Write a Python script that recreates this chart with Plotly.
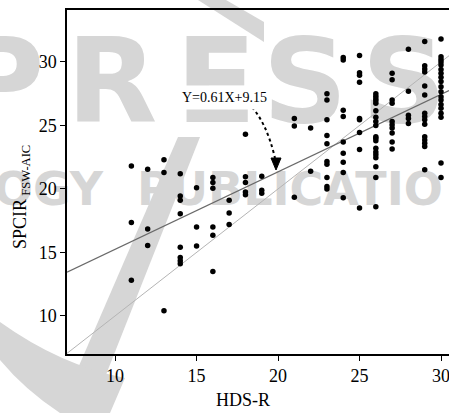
import plotly.graph_objects as go

# ---------------- data ----------------
hds_r = [11, 11, 11,
         12, 12, 12,
         13, 13, 13,
         14, 14, 14, 14, 14, 14, 14, 14,
         15, 15, 15,
         16, 16, 16, 16, 16, 16,
         17, 17, 17,
         18, 18, 18, 18, 18,
         19, 19, 19,
         21, 21, 21,
         22, 22,
         23, 23, 23, 23, 23, 23, 23, 23, 23, 23,
         24, 24, 24, 24, 24, 24, 24, 24, 24,
         25, 25, 25, 25, 25, 25, 25, 25, 25,
         26, 26, 26, 26, 26, 26, 26, 26, 26, 26, 26, 26, 26, 26, 26, 26, 26, 26, 26,
         27, 27, 27, 27, 27, 27, 27, 27, 27, 27,
         28, 28, 28, 28, 28,
         29, 29, 29, 29, 29, 29, 29, 29, 29, 29, 29, 29, 29, 29, 29,
         30, 30, 30, 30, 30, 30, 30, 30, 30, 30, 30, 30, 30, 30, 30, 30, 30, 30, 30]

spcir_fsw_aic = [21.8, 17.35, 12.8,
                 21.55, 16.85, 15.55,
                 22.3, 21.3, 10.4,
                 21.2, 19.45, 19.1, 18.05, 15.4, 14.6, 14.35, 14.1,
                 20.1, 17.0, 15.5,
                 20.9, 20.5, 20.05, 17.0, 16.35, 13.5,
                 19.1, 18.1, 17.2,
                 24.3, 20.95, 20.5, 19.75, 19.55,
                 21.0, 19.9, 19.65,
                 25.55, 24.95, 19.35,
                 24.8, 21.4,
                 27.5, 27.0, 25.45, 24.2, 23.55, 22.15, 21.95, 20.9, 20.2, 20.0,
                 30.35, 30.15, 26.2, 25.7, 23.7, 22.8, 22.1, 21.3, 19.3,
                 30.5, 29.15, 28.95, 28.4, 25.55, 25.45, 24.45, 23.1, 18.5,
                 27.5, 27.3, 27.1, 26.95, 26.75, 26.15, 25.65, 25.3, 25.0, 24.1,
                 24.0, 23.8, 23.2, 22.9, 22.7, 22.45, 21.75, 20.9, 18.6,
                 29.1, 28.6, 27.0, 26.75, 25.3, 25.05, 24.8, 24.4, 23.7, 23.15,
                 31.0, 27.7, 25.8, 25.55, 25.15,
                 31.6, 29.7, 29.45, 29.2, 28.1, 27.4, 25.95, 25.7, 25.45, 25.1,
                 24.1, 23.85, 23.6, 23.35, 21.5,
                 31.8, 30.4, 30.2, 30.0, 29.75, 29.4, 29.1, 28.8, 28.45, 28.05,
                 27.65, 27.25, 27.0, 26.65, 26.35, 25.95, 25.65, 22.05, 20.9]

reg_slope = 0.61
reg_intercept = 9.15
reg_label = "Y=0.61X+9.15"

tick_vals = [10, 15, 20, 25, 30]
tick_text = ["10", "15", "20", "25", "30"]

x_title = "HDS-R"
y_title_main = "SPCIR"
y_title_sub = "FSW-AIC"

# ---------------- layout geometry ----------------
W, H = 449, 413
ML, MR, MT, MB = 67, 0, 10, 59
X_RANGE = [7.05, 30.49]
Y_RANGE = [7.0, 34.09]
PLOT_W = W - ML - MR
PLOT_H = H - MT - MB
SERIF = "Liberation Serif"


def px_x(px):
    return X_RANGE[0] + (px - ML) / PLOT_W * (X_RANGE[1] - X_RANGE[0])


def px_y(py):
    return Y_RANGE[0] + (H - MB - py) / PLOT_H * (Y_RANGE[1] - Y_RANGE[0])


def pap_x(px):
    return (px - ML) / PLOT_W


def pap_y(py):
    return (H - MB - py) / PLOT_H


def poly(points):
    return "M " + " L ".join(f"{pap_x(a)},{pap_y(b)}" for a, b in points) + " Z"


fig = go.Figure()

# ---- faint background watermark (publisher logo) ----
WM = "#d6d6d6"
WM_FONT_BIG = dict(family="DejaVu Sans", size=118, color=WM, weight="bold")
wm_big_letters = ["R", "E", "S", "S"]
wm_big_px = [112, 216, 305, 404]
fig.add_trace(go.Scatter(
    x=[px_x(68)], y=[px_y(92)], mode="text", text=["P\u2009"],
    textfont=WM_FONT_BIG, textposition="middle left",
    cliponaxis=False, hoverinfo="skip", showlegend=False))
fig.add_trace(go.Scatter(
    x=[px_x(p) for p in wm_big_px], y=[px_y(92)] * len(wm_big_px), mode="text",
    text=wm_big_letters, textfont=WM_FONT_BIG,
    textposition="middle center", cliponaxis=False, hoverinfo="skip", showlegend=False))
fig.add_trace(go.Scatter(
    x=[px_x(103), px_x(137)], y=[px_y(193), px_y(193)], mode="text",
    text=["OGY", "PUBLICATIO"],
    textfont=dict(family="DejaVu Sans", size=46, color=WM, weight="bold"),
    textposition=["middle left", "middle right"], cliponaxis=False,
    hoverinfo="skip", showlegend=False))

slash = [(62, 405), (94, 405), (200, 137), (178, 137)]
swoosh = [(198, 0), (226, 0), (264, 22), (264, 42)]
arc_path = (f"M {pap_x(0)},{pap_y(322)} Q {pap_x(60)},{pap_y(365)} {pap_x(125)},{pap_y(378)} "
            f"L {pap_x(110)},{pap_y(413)} L {pap_x(60)},{pap_y(413)} "
            f"Q {pap_x(25)},{pap_y(390)} {pap_x(0)},{pap_y(360)} Z")
shapes = [
    dict(type="path", xref="paper", yref="paper", layer="below",
         path=poly(slash), fillcolor=WM, line=dict(width=0)),
    dict(type="path", xref="paper", yref="paper", layer="below",
         path=poly(swoosh), fillcolor=WM, line=dict(width=0)),
    dict(type="path", xref="paper", yref="paper", layer="below",
         path=arc_path, fillcolor=WM, line=dict(width=0)),
]

# ---- reference lines ----
fig.add_trace(go.Scatter(
    x=X_RANGE, y=X_RANGE, mode="lines",
    line=dict(color="#b4b4b4", width=1), hoverinfo="skip", showlegend=False))
fig.add_trace(go.Scatter(
    x=X_RANGE, y=[reg_slope * v + reg_intercept for v in X_RANGE], mode="lines",
    line=dict(color="#6a6a6a", width=1.2), hoverinfo="skip", showlegend=False))

# ---- data points ----
fig.add_trace(go.Scatter(
    x=hds_r, y=spcir_fsw_aic, mode="markers",
    marker=dict(color="black", size=5.5, line=dict(width=0)),
    showlegend=False))

# ---- curved dotted arrow to the regression line ----
arrow_start = (248, 103)
arrow_ctrl = (266, 120)
arrow_end = (275, 158)
arrow_tip = (276, 170)
shapes.append(dict(
    type="path", xref="x", yref="y",
    path=(f"M {px_x(arrow_start[0])},{px_y(arrow_start[1])} "
          f"Q {px_x(arrow_ctrl[0])},{px_y(arrow_ctrl[1])} "
          f"{px_x(arrow_end[0])},{px_y(arrow_end[1])}"),
    line=dict(color="black", width=2, dash="dot")))
shapes.append(dict(
    type="path", xref="x", yref="y",
    path=(f"M {px_x(arrow_tip[0]-5)},{px_y(arrow_end[1])} "
          f"L {px_x(arrow_tip[0]+5)},{px_y(arrow_end[1])} "
          f"L {px_x(arrow_tip[0])},{px_y(arrow_tip[1])} Z"),
    fillcolor="black", line=dict(color="black", width=1)))

annotations = [
    dict(x=px_x(224), y=px_y(97), xref="x", yref="y", text=reg_label,
         showarrow=False, font=dict(family=SERIF, size=14, color="black"),
         bgcolor="white", borderpad=4),
    dict(x=pap_x(243), y=pap_y(400), xref="paper", yref="paper", text=x_title,
         showarrow=False, font=dict(family=SERIF, size=18, color="black"),
         xanchor="center", yanchor="middle"),
    dict(x=pap_x(21), y=pap_y(197), xref="paper", yref="paper",
         text=f"{y_title_main}<sub> {y_title_sub}</sub>", textangle=-90,
         showarrow=False, font=dict(family=SERIF, size=18, color="black"),
         xanchor="center", yanchor="middle"),
]

axis_common = dict(
    tickvals=tick_vals, ticktext=tick_text, ticks="outside", ticklen=5,
    tickwidth=1, tickcolor="black", showline=True, linecolor="black",
    linewidth=1.5, showgrid=False, zeroline=False, ticklabeloverflow="allow",
    tickfont=dict(family=SERIF, size=18, color="black"))

fig.update_layout(
    width=W, height=H,
    margin=dict(l=ML, r=MR, t=MT, b=MB, pad=0),
    paper_bgcolor="white", plot_bgcolor="rgba(0,0,0,0)",
    xaxis=dict(range=X_RANGE, mirror=True, **axis_common),
    yaxis=dict(range=Y_RANGE, mirror=False, **axis_common),
    shapes=shapes, annotations=annotations,
    font=dict(family=SERIF, color="black"),
)

fig.write_html("out.html", config={"displayModeBar": False},
               post_script="document.body.style.margin='0px';")
